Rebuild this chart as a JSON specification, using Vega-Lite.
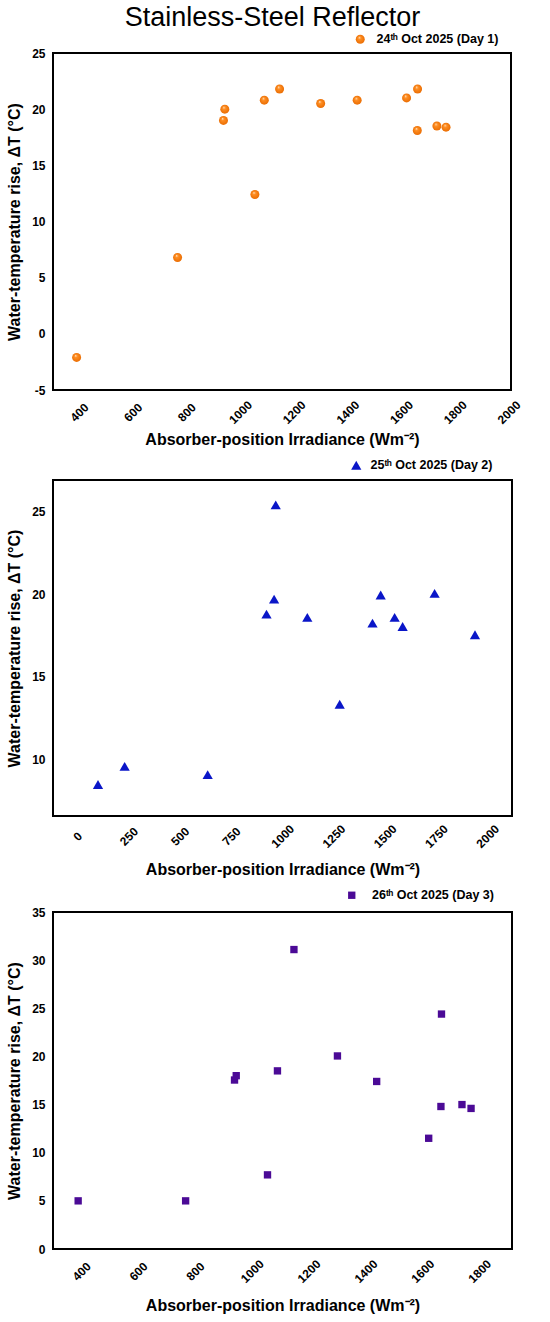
{
  "$schema": "https://vega.github.io/schema/vega-lite/v6.json",
  "background": "white",
  "padding": {"left": 5, "top": 4, "right": 5, "bottom": 5},
  "title": {
    "text": "Stainless-Steel Reflector",
    "font": "Liberation Sans",
    "fontSize": 27,
    "fontWeight": "normal",
    "color": "black",
    "anchor": "middle",
    "dx": 8,
    "offset": 0
  },
  "columns": 1,
  "align": "none",
  "spacing": 9,
  "resolve": {
    "scale": {"shape": "independent"},
    "legend": {"shape": "independent"}
  },
  "concat": [
    {
      "width": 458,
      "height": 337,
      "data": {
        "values": [
          {"irradiance": 391, "deltaT": -2.1, "day": "24ᵗʰ Oct 2025 (Day 1)"},
          {"irradiance": 767, "deltaT": 6.8, "day": "24ᵗʰ Oct 2025 (Day 1)"},
          {"irradiance": 938, "deltaT": 19.0, "day": "24ᵗʰ Oct 2025 (Day 1)"},
          {"irradiance": 943, "deltaT": 20.0, "day": "24ᵗʰ Oct 2025 (Day 1)"},
          {"irradiance": 1055, "deltaT": 12.4, "day": "24ᵗʰ Oct 2025 (Day 1)"},
          {"irradiance": 1090, "deltaT": 20.8, "day": "24ᵗʰ Oct 2025 (Day 1)"},
          {"irradiance": 1147, "deltaT": 21.8, "day": "24ᵗʰ Oct 2025 (Day 1)"},
          {"irradiance": 1300, "deltaT": 20.5, "day": "24ᵗʰ Oct 2025 (Day 1)"},
          {"irradiance": 1436, "deltaT": 20.8, "day": "24ᵗʰ Oct 2025 (Day 1)"},
          {"irradiance": 1620, "deltaT": 21.0, "day": "24ᵗʰ Oct 2025 (Day 1)"},
          {"irradiance": 1660, "deltaT": 18.1, "day": "24ᵗʰ Oct 2025 (Day 1)"},
          {"irradiance": 1661, "deltaT": 21.8, "day": "24ᵗʰ Oct 2025 (Day 1)"},
          {"irradiance": 1733, "deltaT": 18.5, "day": "24ᵗʰ Oct 2025 (Day 1)"},
          {"irradiance": 1767, "deltaT": 18.4, "day": "24ᵗʰ Oct 2025 (Day 1)"}
        ]
      },
      "mark": {
        "type": "point",
        "filled": true,
        "opacity": 1,
        "size": 81,
        "strokeWidth": 0,
        "fill": {
          "gradient": "radial",
          "x1": 0.38, "y1": 0.3, "r1": 0,
          "x2": 0.5, "y2": 0.5, "r2": 0.55,
          "stops": [
            {"offset": 0, "color": "#fff1dc"},
            {"offset": 0.28, "color": "#ff8f24"},
            {"offset": 1, "color": "#e86a00"}
          ]
        }
      },
      "encoding": {
        "x": {
          "field": "irradiance",
          "type": "quantitative",
          "scale": {"domain": [303, 2009], "nice": false, "zero": false},
          "axis": {
            "values": [400, 600, 800, 1000, 1200, 1400, 1600, 1800, 2000],
            "format": "d",
            "title": "Absorber-position Irradiance (Wm⁻²)"
          }
        },
        "y": {
          "field": "deltaT",
          "type": "quantitative",
          "scale": {"domain": [-5, 25], "nice": false, "zero": false},
          "axis": {
            "values": [-5, 0, 5, 10, 15, 20, 25],
            "labelExpr": "'' + datum.value",
            "title": "Water-temperature rise, ΔT (°C)"
          }
        },
        "shape": {
          "field": "day",
          "type": "nominal",
          "scale": {"range": ["circle"]},
          "legend": {
            "legendX": 301,
            "legendY": -20,
            "symbolFillColor": "#ff7f0a",
            "symbolStrokeWidth": 0,
            "symbolSize": 81,
            "labelOffset": 10
          }
        }
      }
    },
    {
      "width": 459,
      "height": 336,
      "data": {
        "values": [
          {"irradiance": 101, "deltaT": 8.5, "day": "25ᵗʰ Oct 2025 (Day 2)"},
          {"irradiance": 231, "deltaT": 9.6, "day": "25ᵗʰ Oct 2025 (Day 2)"},
          {"irradiance": 636, "deltaT": 9.1, "day": "25ᵗʰ Oct 2025 (Day 2)"},
          {"irradiance": 923, "deltaT": 18.8, "day": "25ᵗʰ Oct 2025 (Day 2)"},
          {"irradiance": 960, "deltaT": 19.7, "day": "25ᵗʰ Oct 2025 (Day 2)"},
          {"irradiance": 968, "deltaT": 25.4, "day": "25ᵗʰ Oct 2025 (Day 2)"},
          {"irradiance": 1122, "deltaT": 18.6, "day": "25ᵗʰ Oct 2025 (Day 2)"},
          {"irradiance": 1280, "deltaT": 13.35, "day": "25ᵗʰ Oct 2025 (Day 2)"},
          {"irradiance": 1440, "deltaT": 18.25, "day": "25ᵗʰ Oct 2025 (Day 2)"},
          {"irradiance": 1480, "deltaT": 19.95, "day": "25ᵗʰ Oct 2025 (Day 2)"},
          {"irradiance": 1548, "deltaT": 18.6, "day": "25ᵗʰ Oct 2025 (Day 2)"},
          {"irradiance": 1587, "deltaT": 18.05, "day": "25ᵗʰ Oct 2025 (Day 2)"},
          {"irradiance": 1743, "deltaT": 20.05, "day": "25ᵗʰ Oct 2025 (Day 2)"},
          {"irradiance": 1940, "deltaT": 17.55, "day": "25ᵗʰ Oct 2025 (Day 2)"}
        ]
      },
      "mark": {
        "type": "point",
        "filled": true,
        "opacity": 1,
        "size": 105,
        "strokeWidth": 0,
        "color": "#0a16c8"
      },
      "encoding": {
        "x": {
          "field": "irradiance",
          "type": "quantitative",
          "scale": {"domain": [-118.5, 2120.5], "nice": false, "zero": false},
          "axis": {
            "values": [0, 250, 500, 750, 1000, 1250, 1500, 1750, 2000],
            "format": "d",
            "labelPadding": 20,
            "titlePadding": 12,
            "title": "Absorber-position Irradiance (Wm⁻²)"
          }
        },
        "y": {
          "field": "deltaT",
          "type": "quantitative",
          "scale": {"domain": [6.6, 26.9], "nice": false, "zero": false},
          "axis": {
            "values": [10, 15, 20, 25],
            "title": "Water-temperature rise, ΔT (°C)"
          }
        },
        "shape": {
          "field": "day",
          "type": "nominal",
          "scale": {"range": ["triangle-up"]},
          "legend": {
            "legendX": 297,
            "legendY": -21,
            "symbolFillColor": "#0a16c8",
            "symbolStrokeWidth": 0,
            "symbolSize": 105,
            "labelOffset": 8
          }
        }
      }
    },
    {
      "width": 459,
      "height": 337,
      "data": {
        "values": [
          {"irradiance": 389, "deltaT": 5.0, "day": "26ᵗʰ Oct 2025 (Day 3)"},
          {"irradiance": 767, "deltaT": 5.0, "day": "26ᵗʰ Oct 2025 (Day 3)"},
          {"irradiance": 939, "deltaT": 17.55, "day": "26ᵗʰ Oct 2025 (Day 3)"},
          {"irradiance": 945, "deltaT": 18.0, "day": "26ᵗʰ Oct 2025 (Day 3)"},
          {"irradiance": 1055, "deltaT": 7.7, "day": "26ᵗʰ Oct 2025 (Day 3)"},
          {"irradiance": 1090, "deltaT": 18.5, "day": "26ᵗʰ Oct 2025 (Day 3)"},
          {"irradiance": 1148, "deltaT": 31.1, "day": "26ᵗʰ Oct 2025 (Day 3)"},
          {"irradiance": 1301, "deltaT": 20.05, "day": "26ᵗʰ Oct 2025 (Day 3)"},
          {"irradiance": 1439, "deltaT": 17.4, "day": "26ᵗʰ Oct 2025 (Day 3)"},
          {"irradiance": 1622, "deltaT": 11.5, "day": "26ᵗʰ Oct 2025 (Day 3)"},
          {"irradiance": 1665, "deltaT": 14.8, "day": "26ᵗʰ Oct 2025 (Day 3)"},
          {"irradiance": 1667, "deltaT": 24.4, "day": "26ᵗʰ Oct 2025 (Day 3)"},
          {"irradiance": 1739, "deltaT": 15.0, "day": "26ᵗʰ Oct 2025 (Day 3)"},
          {"irradiance": 1771, "deltaT": 14.6, "day": "26ᵗʰ Oct 2025 (Day 3)"}
        ]
      },
      "mark": {
        "type": "point",
        "filled": true,
        "opacity": 1,
        "size": 54,
        "strokeWidth": 0,
        "color": "#4b0a96"
      },
      "encoding": {
        "x": {
          "field": "irradiance",
          "type": "quantitative",
          "scale": {"domain": [300.5, 1915], "nice": false, "zero": false},
          "axis": {
            "values": [400, 600, 800, 1000, 1200, 1400, 1600, 1800],
            "format": "d",
            "titlePadding": 13,
            "title": "Absorber-position Irradiance (Wm⁻²)"
          }
        },
        "y": {
          "field": "deltaT",
          "type": "quantitative",
          "scale": {"domain": [0, 35], "nice": false, "zero": false},
          "axis": {
            "values": [0, 5, 10, 15, 20, 25, 30, 35],
            "title": "Water-temperature rise, ΔT (°C)"
          }
        },
        "shape": {
          "field": "day",
          "type": "nominal",
          "scale": {"range": ["square"]},
          "legend": {
            "legendX": 292.5,
            "legendY": -23,
            "symbolFillColor": "#4b0a96",
            "symbolStrokeWidth": 0,
            "symbolSize": 54,
            "labelOffset": 14
          }
        }
      }
    }
  ],
  "config": {
    "font": "Liberation Sans",
    "view": {"stroke": "black", "strokeWidth": 2},
    "axis": {
      "grid": false,
      "ticks": false,
      "tickSize": 0,
      "domain": false,
      "labelFont": "Liberation Sans",
      "labelFontSize": 12,
      "labelFontWeight": "bold",
      "labelColor": "black",
      "titleFont": "Liberation Sans",
      "titleFontSize": 16,
      "titleFontWeight": "bold",
      "titleColor": "black"
    },
    "axisX": {
      "labelAngle": -45,
      "labelAlign": "center",
      "labelBaseline": "middle",
      "labelPadding": 22,
      "labelOverlap": false,
      "titlePadding": 6
    },
    "axisY": {
      "labelPadding": 8,
      "titlePadding": 9
    },
    "legend": {
      "orient": "none",
      "title": null,
      "padding": 0,
      "labelFont": "Liberation Sans",
      "labelFontSize": 12.5,
      "labelFontWeight": "bold",
      "labelColor": "black"
    }
  }
}
